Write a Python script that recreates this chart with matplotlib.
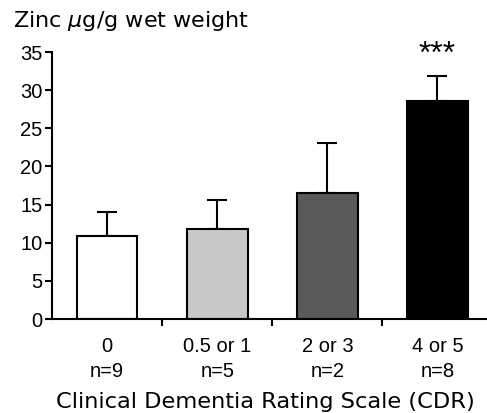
import matplotlib
matplotlib.use("Agg")
import matplotlib.pyplot as plt
import numpy as np

categories = ["0", "0.5 or 1", "2 or 3", "4 or 5"]
n_labels = ["n=9", "n=5", "n=2", "n=8"]
means = [10.9, 11.8, 16.5, 28.6]
errors = [3.1, 3.8, 6.6, 3.2]
colors = ["#ffffff", "#c8c8c8", "#5a5a5a", "#000000"]

fig = plt.figure(figsize=(4.87, 4.13), dpi=100)
ax = fig.add_axes([0.107, 0.2276, 0.893, 0.6464])

x = np.arange(len(categories))
ax.bar(x, means, width=0.55, color=colors, edgecolor="black", linewidth=1.5, zorder=2)
ax.errorbar(x, means, yerr=[np.zeros(len(errors)), errors], fmt="none",
            ecolor="black", elinewidth=1.5, capsize=7, capthick=1.5, zorder=1)

ax.set_xlim(-0.5, 3.45)
ax.set_ylim(0, 35)
ax.set_yticks(np.arange(0, 36, 5))
ax.spines["top"].set_visible(False)
ax.spines["right"].set_visible(False)
ax.spines["left"].set_linewidth(1.5)
ax.spines["bottom"].set_linewidth(1.5)
ax.tick_params(axis="y", direction="out", length=5, width=1.5, labelsize=14.5, pad=2)
for lab in ax.get_yticklabels():
    lab.set_family("Liberation Sans")

ax.set_xticks([0.5, 1.5, 2.5])
ax.set_xticklabels([])
ax.tick_params(axis="x", direction="out", length=5, width=1.5)
for xi, c, n in zip(x, categories, n_labels):
    ax.text(xi, -2.4, c + "\n" + n, ha="center", va="top", fontsize=14.5,
            family="Liberation Sans", linespacing=1.35)

ax.text(x[-1], 34.6, "***", ha="center", va="center",
        fontsize=23, family="Liberation Sans")

fig.text(0.027, 0.934, "Zinc $\\mu$g/g wet weight", ha="left", va="baseline",
         fontsize=16, family="DejaVu Sans")
fig.text(0.545, 0.011, "Clinical Dementia Rating Scale (CDR)", ha="center", va="baseline",
         fontsize=16.2, family="DejaVu Sans")

fig.savefig("out.png", dpi=100)
